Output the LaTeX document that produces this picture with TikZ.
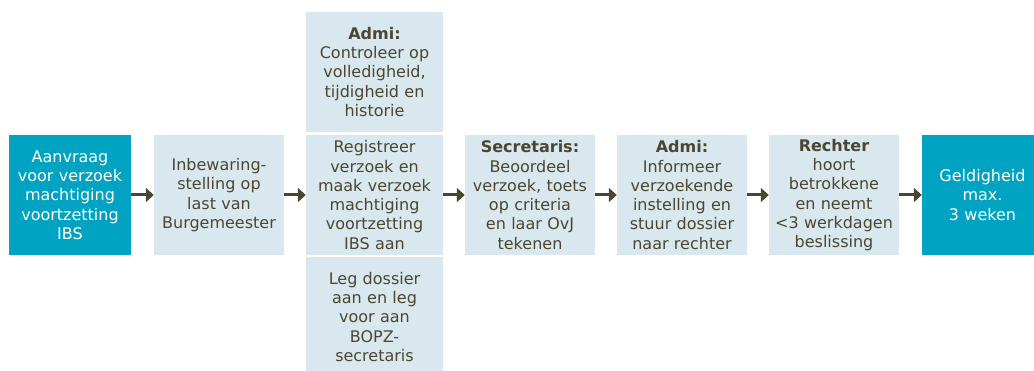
\documentclass[tikz,border=0pt]{standalone}
\usepackage{fontspec}
\setmainfont{DejaVu Sans}
\usetikzlibrary{arrows.meta}
\definecolor{teal}{HTML}{00A3C2}
\definecolor{pale}{HTML}{D9E8EF}
\definecolor{ink}{HTML}{4A4631}
\tikzset{
  box/.style={fill=pale, text=ink, align=center, inner sep=0pt, minimum height=120pt, text width=#1, minimum width=#1, font=\fontsize{16}{19.3}\selectfont},
  box/.default=130pt,
  tealbox/.style={box=#1, fill=teal, text=white},
  tealbox/.default=122pt,
  flow/.style={draw=ink, line width=3pt, -{Triangle[length=8pt,width=14pt]}}
}
\begin{document}
\begin{tikzpicture}[x=1pt,y=-1pt]
\useasboundingbox (0,0) rectangle (1034,371);
\clip (0,0) rectangle (1034,371);
\node[tealbox] (b1) at (70,195) {Aanvraag\\voor verzoek\\machtiging\\voortzetting\\IBS};
\node[box] (b2) at (219,195) {Inbewaring-\\stelling op\\last van\\Burgemeester};
\node[box=137pt] (b3t) at (374.5,72) {\textbf{Admi:}\\Controleer op\\volledigheid,\\tijdigheid en\\historie};
\node[box=137pt] (b3) at (374.5,195) {Registreer\\verzoek en\\maak verzoek\\machtiging\\voortzetting\\IBS aan};
\node[box=137pt] (b3b) at (374.5,317) {Leg dossier\\aan en leg\\voor aan\\BOPZ-\\secretaris};
\node[box] (b4) at (530,195) {\textbf{Secretaris:}\\Beoordeel\\verzoek, toets\\op criteria\\en laar OvJ\\tekenen};
\node[box] (b5) at (682,195) {\textbf{Admi:}\\Informeer\\verzoekende\\instelling en\\stuur dossier\\naar rechter};
\node[box] (b6) at (834,195) {\textbf{Rechter}\\hoort\\betrokkene\\en neemt\\<3 werkdagen\\beslissing};
\node[tealbox=121pt] (b7) at (982.5,195) {Geldigheid\\max.\\3 weken};
\draw[flow] (b1.east) -- (b2.west);
\draw[flow] (b2.east) -- (b3.west);
\draw[flow] (b3.east) -- (b4.west);
\draw[flow] (b4.east) -- (b5.west);
\draw[flow] (b5.east) -- (b6.west);
\draw[flow] (b6.east) -- (b7.west);
\end{tikzpicture}
\end{document}
